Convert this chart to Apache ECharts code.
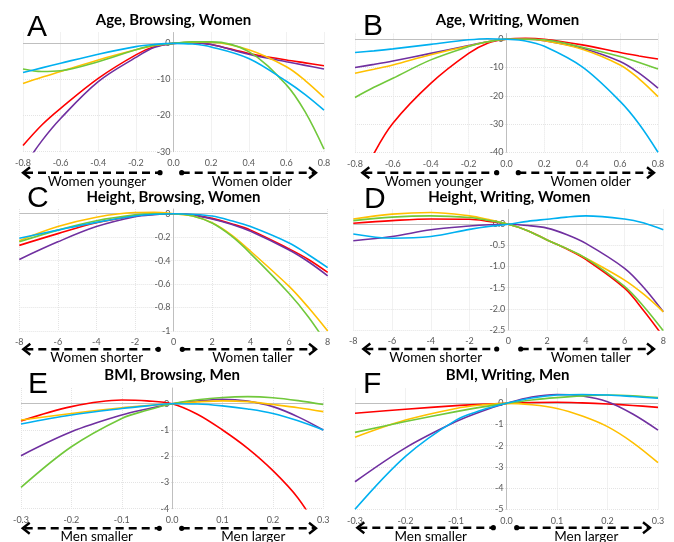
<!DOCTYPE html>
<html>
<head>
<meta charset="utf-8">
<script src="https://cdn.jsdelivr.net/npm/echarts@6/dist/echarts.min.js"></script>
<style>
  html, body { margin: 0; padding: 0; background: #fff; }
  #chart { width: 674px; height: 542px; }
</style>
</head>
<body>
<div id="chart"></div>
<script>
// x positions where the curves were read
const ageX = [-0.8, -0.7, -0.6, -0.4, -0.2, -0.1, 0, 0.1, 0.2, 0.4, 0.6, 0.7, 0.8];
const heightX = [-8, -6, -4, -2, -1, 0, 1, 2, 3, 4, 6, 7, 8];
const bmiX = [-0.3, -0.2, -0.1, -0.05, 0, 0.05, 0.1, 0.15, 0.2, 0.25, 0.3];

// A: Age, Browsing, Women
const aRed    = [-28.3, -22.6, -18.0, -9.7, -3.2, -0.9, 0, 0.2, -0.3, -2.8, -4.6, -5.4, -6.2];
const aPurple = [-34.5, -27.0, -20.8, -10.6, -3.9, -1.1, 0, 0.2, -0.3, -3.0, -5.1, -6.1, -7.1];
const aYellow = [-11.1, -9.4, -7.8, -4.6, -1.8, -0.6, 0, 0.3, 0.3, -1.8, -6.5, -10.3, -15.0];
const aGreen  = [-7.1, -7.8, -7.6, -5.1, -1.8, -0.5, 0, 0.4, 0.4, -2.3, -11.5, -19.0, -29.3];
const aBlue   = [-8.1, -6.8, -5.5, -3.0, -0.9, -0.3, 0, -0.2, -1.0, -4.2, -10.5, -14.2, -18.5];

// B: Age, Writing, Women
const bRed    = [-54.0, -40.4, -29.7, -15.6, -5.0, -1.4, 0, 0.35, 0, -2.0, -4.7, -5.9, -7.0];
const bPurple = [-10.0, -8.9, -7.7, -5.0, -2.2, -0.9, 0, 0, -0.5, -3.2, -7.9, -12.0, -17.3];
const bYellow = [-12.0, -10.6, -9.1, -5.5, -2.4, -0.9, 0, 0, -0.5, -3.5, -9.1, -14.0, -20.3];
const bGreen  = [-20.6, -17.0, -13.8, -7.3, -2.6, -0.9, 0, 0, -0.2, -2.8, -6.1, -8.2, -10.5];
const bBlue   = [-4.7, -4.1, -3.4, -1.8, -0.2, 0.2, 0, -0.6, -2.5, -9.8, -22.0, -30.0, -40.0];

// C: Height, Browsing, Women
const cRed    = [-0.27, -0.17, -0.077, -0.02, -0.005, 0, -0.01, -0.04, -0.085, -0.14, -0.30, -0.39, -0.50];
const cPurple = [-0.39, -0.24, -0.11, -0.026, -0.008, 0, -0.012, -0.045, -0.09, -0.15, -0.31, -0.41, -0.53];
const cYellow = [-0.23, -0.11, -0.03, 0.01, 0.012, 0, -0.02, -0.077, -0.18, -0.32, -0.62, -0.80, -1.0];
const cGreen  = [-0.24, -0.14, -0.06, -0.01, 0.0, 0, -0.02, -0.08, -0.19, -0.34, -0.68, -0.88, -1.12];
const cBlue   = [-0.21, -0.14, -0.074, -0.02, -0.005, 0, -0.005, -0.02, -0.06, -0.11, -0.25, -0.35, -0.46];

// D: Height, Writing, Women
const dRed    = [0.024, 0.087, 0.126, 0.12, 0.07, 0, -0.15, -0.37, -0.58, -0.83, -1.51, -2.05, -2.66];
const dPurple = [-0.39, -0.29, -0.13, -0.04, -0.01, 0, -0.03, -0.09, -0.24, -0.45, -1.04, -1.50, -2.07];
const dYellow = [0.126, 0.24, 0.28, 0.2, 0.11, 0, -0.15, -0.37, -0.57, -0.80, -1.32, -1.66, -2.07];
const dGreen  = [0.087, 0.17, 0.2, 0.16, 0.09, 0, -0.15, -0.37, -0.57, -0.80, -1.47, -1.95, -2.52];
const dBlue   = [-0.23, -0.33, -0.29, -0.12, -0.05, 0, 0.07, 0.12, 0.17, 0.2, 0.126, 0.03, -0.13];

// E: BMI, Browsing, Men
const eRed    = [-0.66, -0.11, 0.14, 0.11, 0, -0.4, -1.0, -1.7, -2.55, -3.6, -5.1];
const ePurple = [-1.98, -1.07, -0.43, -0.2, 0, 0.1, 0.17, 0.1, -0.11, -0.5, -1.0];
const eYellow = [-0.62, -0.37, -0.15, -0.07, 0, 0.07, 0.11, 0.08, -0.03, -0.15, -0.3];
const eGreen  = [-3.19, -1.64, -0.56, -0.25, 0, 0.15, 0.24, 0.27, 0.23, 0.12, -0.03];
const eBlue   = [-0.77, -0.43, -0.18, -0.08, 0, -0.01, -0.08, -0.2, -0.37, -0.65, -1.0];

// F: BMI, Writing, Men
const fRed    = [-0.47, -0.28, -0.11, -0.05, 0, 0.04, 0.05, 0.02, -0.03, -0.1, -0.19];
const fPurple = [-3.7, -2.1, -0.86, -0.38, 0, 0.3, 0.42, 0.35, 0.08, -0.5, -1.26];
const fYellow = [-1.6, -0.79, -0.24, -0.08, 0, -0.07, -0.24, -0.6, -1.1, -1.85, -2.8];
const fGreen  = [-1.37, -0.86, -0.39, -0.18, 0, 0.16, 0.27, 0.35, 0.39, 0.36, 0.27];
const fBlue   = [-5.0, -2.5, -0.79, -0.33, 0, 0.25, 0.39, 0.42, 0.39, 0.32, 0.24];

const colors = { red: '#ff0000', purple: '#7030a0', yellow: '#ffc000', green: '#71c83b', blue: '#00b0f0' };

const panels = [
  { letter: 'A', title: 'Age, Browsing, Women', x: ageX, lines: [aRed, aPurple, aYellow, aGreen, aBlue],
    xMin: -0.8, xMax: 0.8, xStep: 0.2, yMin: -30, yMax: 3, yStep: 10, xDec: 1, yDec: 0,
    left: 23, width: 301, top: 32.5, height: 119.2, labels: ['Women younger', 'Women older'] },
  { letter: 'B', title: 'Age, Writing, Women', x: ageX, lines: [bRed, bPurple, bYellow, bGreen, bBlue],
    xMin: -0.8, xMax: 0.8, xStep: 0.2, yMin: -40, yMax: 2, yStep: 10, xDec: 1, yDec: 0,
    left: 355, width: 303, top: 33.6, height: 118.7, labels: ['Women younger', 'Women older'] },
  { letter: 'C', title: 'Height, Browsing, Women', x: heightX, lines: [cRed, cPurple, cYellow, cGreen, cBlue],
    xMin: -8, xMax: 8, xStep: 2, yMin: -1, yMax: 0.04, yStep: 0.2, xDec: 0, yDec: -1,
    left: 19.3, width: 308.4, top: 209, height: 122, labels: ['Women shorter', 'Women taller'] },
  { letter: 'D', title: 'Height, Writing, Women', x: heightX, lines: [dRed, dPurple, dYellow, dGreen, dBlue],
    xMin: -8, xMax: 8, xStep: 2, yMin: -2.5, yMax: 0.35, yStep: 0.5, xDec: 0, yDec: 1,
    left: 353.3, width: 310, top: 209.5, height: 120.5, labels: ['Women shorter', 'Women taller'] },
  { letter: 'E', title: 'BMI, Browsing, Men', x: bmiX, lines: [eRed, ePurple, eYellow, eGreen, eBlue],
    xMin: -0.3, xMax: 0.3, xStep: 0.1, yMin: -4, yMax: 0.6, yStep: 1, xDec: 1, yDec: 0,
    left: 21, width: 302.3, top: 388, height: 120.7, labels: ['Men smaller', 'Men larger'] },
  { letter: 'F', title: 'BMI, Writing, Men', x: bmiX, lines: [fRed, fPurple, fYellow, fGreen, fBlue],
    xMin: -0.3, xMax: 0.3, xStep: 0.1, yMin: -5, yMax: 0.7, yStep: 1, xDec: 1, yDec: 0,
    left: 355, width: 303, top: 388.5, height: 120.8, labels: ['Men smaller', 'Men larger'] }
];

// arrow rows under each panel: y, left tip, left dot, right dot, right tip, text centres
const arrows = [
  [172.7, 23, 160, 181.7, 316, 97, 252],
  [172.7, 362.3, 496.7, 518.3, 654, 434, 590.7],
  [349.3, 23.3, 158.3, 182.3, 316, 96.7, 252.3],
  [349, 363.3, 496.7, 520.7, 654, 435.7, 590.7],
  [528.3, 22.7, 159.3, 181.7, 316, 96.7, 253.3],
  [527.7, 357.3, 493.3, 516.7, 650, 430.7, 586.3]
];
const letterPos = [[27, 28], [363, 27], [27, 199], [364, 200], [28, 385], [363, 385]];
const titleY = [20, 20, 196.7, 197, 375, 375];

const order = ['red', 'purple', 'yellow', 'green', 'blue'];

function fmt(v, dec) {
  if (dec < 0) {
    return String(Math.round(v * 100) / 100);
  }
  return (Math.round(v * 1000) / 1000).toFixed(dec);
}

const grid = [], xAxis = [], yAxis = [], series = [], graphic = [];

panels.forEach((p, i) => {
  grid.push({ left: p.left, top: p.top, width: p.width, height: p.height });
  xAxis.push({
    type: 'value', gridIndex: i, min: p.xMin, max: p.xMax, interval: p.xStep,
    axisLine: { show: false, onZero: false },
    axisTick: { show: false },
    axisLabel: { fontSize: 9, color: '#595959', margin: 7, fontFamily: 'Lato',
      formatter: v => fmt(v, p.xDec) },
    splitLine: { show: true, lineStyle: { color: '#e4e4e4', type: 'dotted' } }
  });
  // the y axis sits on x = 0, the middle of each symmetric x range
  yAxis.push({
    type: 'value', gridIndex: i, min: p.yMin, max: p.yMax, interval: p.yStep,
    position: 'left', offset: -p.width / 2,
    axisLine: { show: true, onZero: false, lineStyle: { color: '#bfbfbf', width: 1 } },
    axisTick: { show: false },
    axisLabel: { fontSize: 9, color: '#595959', margin: 3, fontFamily: 'Lato', showMaxLabel: false,
      formatter: v => fmt(v, p.yDec) },
    splitLine: { show: true, showMaxLine: false, lineStyle: { color: '#e4e4e4', type: 'dotted' } }
  });
  p.lines.forEach((vals, k) => {
    const s = {
      type: 'line', xAxisIndex: i, yAxisIndex: i, smooth: 0.35, showSymbol: false, silent: true,
      data: p.x.map((x, j) => [x, vals[j]]),
      lineStyle: { color: colors[order[k]], width: 1.6 },
      itemStyle: { color: colors[order[k]] }
    };
    if (k === 0) {
      s.markLine = { silent: true, symbol: 'none', label: { show: false }, z: 1,
        lineStyle: { color: '#bfbfbf', type: 'solid', width: 1 }, data: [{ yAxis: 0 }] };
    }
    series.push(s);
  });

  // panel letter and title
  graphic.push({ type: 'text', left: letterPos[i][0], top: letterPos[i][1] - 15,
    style: { text: p.letter, font: '30px "Liberation Sans"', fill: '#000' } });
  graphic.push({ type: 'text', x: p.left + p.width / 2 + (i % 2 ? 1 : 0), y: titleY[i],
    style: { text: p.title, font: 'bold 15px Lato', fill: '#000', textAlign: 'center', textVerticalAlign: 'middle' } });

  // dashed arrows and their labels
  const [ay, lt, ld, rd, rt, t1, t2] = arrows[i];
  const dash = { stroke: '#000', lineWidth: 2.4, lineDash: [8, 5] };
  graphic.push({ type: 'line', shape: { x1: lt + 2, y1: ay, x2: ld, y2: ay }, style: dash });
  graphic.push({ type: 'line', shape: { x1: rd, y1: ay, x2: rt - 2, y2: ay }, style: dash });
  graphic.push({ type: 'polyline', shape: { points: [[lt + 7, ay - 5.5], [lt, ay], [lt + 7, ay + 5.5]] },
    style: { stroke: '#000', lineWidth: 2.4, fill: null } });
  graphic.push({ type: 'polyline', shape: { points: [[rt - 7, ay - 5.5], [rt, ay], [rt - 7, ay + 5.5]] },
    style: { stroke: '#000', lineWidth: 2.4, fill: null } });
  graphic.push({ type: 'circle', shape: { cx: ld, cy: ay, r: 2.6 }, style: { fill: '#000' } });
  graphic.push({ type: 'circle', shape: { cx: rd, cy: ay, r: 2.6 }, style: { fill: '#000' } });
  graphic.push({ type: 'text', x: t1, y: ay + 8.5,
    style: { text: p.labels[0], font: '13.5px Lato', fill: '#000', textAlign: 'center', textVerticalAlign: 'middle' } });
  graphic.push({ type: 'text', x: t2, y: ay + 8.5,
    style: { text: p.labels[1], font: '13.5px Lato', fill: '#000', textAlign: 'center', textVerticalAlign: 'middle' } });
});

const chart = echarts.init(document.getElementById('chart'));
chart.setOption({
  animation: false,
  grid: grid,
  xAxis: xAxis,
  yAxis: yAxis,
  series: series,
  graphic: graphic
});
window.addEventListener('resize', chart.resize);
</script>
</body>
</html>
